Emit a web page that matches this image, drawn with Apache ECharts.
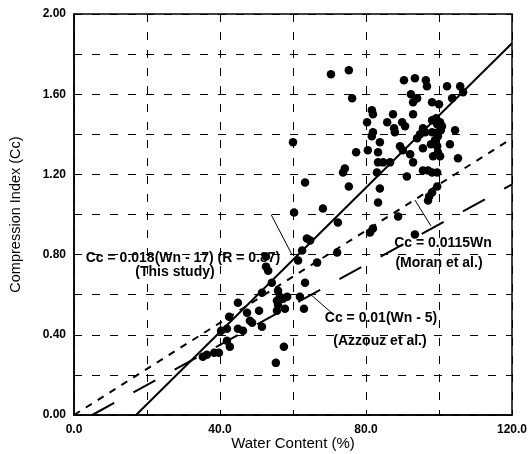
<!DOCTYPE html>
<html>
<head>
<meta charset="utf-8">
<script src="https://cdn.jsdelivr.net/npm/echarts@6/dist/echarts.min.js"></script>
<style>html,body{margin:0;padding:0;background:#fff;}#c{width:531px;height:454px;}</style>
</head>
<body>
<div id="c"></div>
<script>
// Measured points: [Water content (%), Compression index Cc]
var measuredPoints = [
  [35.3,0.29],[36.4,0.30],[38.4,0.31],[39.7,0.31],[40.3,0.42],[41.9,0.43],[41.9,0.37],[42.7,0.34],
  [42.5,0.49],[44.9,0.56],[44.9,0.43],[46.3,0.42],[47.4,0.51],[48.2,0.47],[48.8,0.46],[51.5,0.44],
  [50.7,0.52],[51.5,0.61],[52.6,0.79],[52.6,0.74],[53.2,0.72],[54.2,0.66],[55.9,0.62],[56.4,0.59],
  [57.3,0.58],[55.6,0.57],[58.4,0.59],[55.9,0.55],[55.6,0.52],[57.5,0.34],[55.3,0.26],[61.4,0.77],
  [61.9,0.59],[63.0,0.53],[63.3,0.66],[66.6,0.76],[57.8,0.53],
  [70.4,1.70],[75.3,1.72],[76.2,1.58],[60.0,1.36],[63.3,1.16],[60.3,1.01],[68.2,1.03],[75.3,1.14],
  [72.3,0.96],[63.8,0.88],[64.7,0.87],[62.5,0.82],[72.1,0.81],[74.2,1.23],[73.7,1.21],
  [90.4,1.67],[93.4,1.68],[96.4,1.67],[96.7,1.64],[102.2,1.64],[105.8,1.64],[106.6,1.61],[103.6,1.58],
  [92.3,1.60],[92.9,1.56],[94.0,1.58],[98.1,1.56],[100.0,1.55],[81.6,1.52],[81.9,1.50],[80.3,1.46],
  [81.9,1.41],[81.6,1.39],[83.8,1.36],[77.3,1.31],[80.5,1.32],[83.3,1.31],[83.3,1.26],[83.0,1.21],
  [87.4,1.50],[85.8,1.46],[89.9,1.46],[90.7,1.44],[87.7,1.43],[87.9,1.41],[92.9,1.50],[98.1,1.47],
  [99.5,1.45],[100.8,1.44],[98.1,1.41],[99.7,1.41],[100.3,1.46],[95.6,1.43],[96.2,1.41],[104.4,1.42],
  [94.0,1.38],[94.8,1.40],[89.3,1.34],[90.1,1.32],[103.0,1.35],[98.9,1.37],[99.5,1.34],[99.7,1.39],
  [95.6,1.33],[97.8,1.35],[99.7,1.31],[100.3,1.29],[98.4,1.29],[92.1,1.30],[92.9,1.26],[84.7,1.26],
  [86.6,1.26],[95.6,1.22],[97.0,1.22],[98.1,1.21],[99.5,1.21],[105.2,1.28],[91.2,1.19],[83.8,1.13],
  [99.5,1.14],[98.1,1.11],[97.3,1.09],[97.0,1.07],[83.3,1.06],[88.8,0.99],[81.9,0.93],[81.1,0.91],
  [93.4,0.90],[99.2,1.48],[100.5,1.42]
];
// Regression lines (end points)
var thisStudyLine = [[17,0],[120,1.854]];   // Cc = 0.018(Wn - 17)
var moranLine = [[0,0],[120,1.38]];          // Cc = 0.0115Wn
var azzouzLine = [[5,0],[120,1.15]];         // Cc = 0.01(Wn - 5)
// Leader lines for annotations
var thisStudyPointer = [[54.0,1.00],[59.7,0.80]];
var moranPointer = [[93.4,1.072],[97.8,0.943]];
var azzouzPointer = [[64.9,0.60],[71.2,0.50]];
var xLabels = [0,40,80,120];
var yLabels = [0,0.4,0.8,1.2,1.6,2.0];
var annotations = [
  ['Cc = 0.018(Wn - 17) (R = 0.87)','(This study)'],
  ['Cc = 0.0115Wn','(Moran et al.)'],
  ['Cc = 0.01(Wn - 5)','(Azzouz et al.)']
];

var chart = echarts.init(document.getElementById('c'));
var F = '"Liberation Sans", Arial, sans-serif';
function isLabelX(v){ return xLabels.some(function(t){return Math.abs(t-v)<1e-6;}); }
function isLabelY(v){ return yLabels.some(function(t){return Math.abs(t-v)<1e-6;}); }
var txt = {fontFamily:F, fontWeight:'bold', fontSize:14, fill:'#000', textAlign:'center', textVerticalAlign:'middle'};
chart.setOption({
  animation:false,
  backgroundColor:'#fff',
  grid:{left:74,right:19,top:14,bottom:39,show:true,borderColor:'#000',borderWidth:1.5,
    containLabel:false,outerBoundsMode:'none'},
  xAxis:{type:'value',min:0,max:120,interval:20,
    name:'Water Content (%)',nameLocation:'middle',nameGap:21,nameMoveOverlap:false,
    nameTextStyle:{fontFamily:F,fontSize:15,color:'#000',verticalAlign:'top'},
    axisLine:{show:true,lineStyle:{color:'#000',width:1.5}},
    axisTick:{show:true,inside:true,length:5,lineStyle:{color:'#000'}},
    axisLabel:{fontFamily:F,fontWeight:'bold',fontSize:12,color:'#000',margin:9,
      formatter:function(v){return isLabelX(v)?v.toFixed(1):'';}},
    splitLine:{show:true,lineStyle:{color:'#000',width:1,type:[8,10]}}
  },
  yAxis:{type:'value',min:0,max:2,interval:0.2,
    name:'Compression Index (Cc)',nameLocation:'middle',nameGap:51,nameMoveOverlap:false,
    nameTextStyle:{fontFamily:F,fontSize:14.5,color:'#000'},
    axisLine:{show:true,lineStyle:{color:'#000',width:1.5}},
    axisTick:{show:true,inside:true,length:5,lineStyle:{color:'#000'}},
    axisLabel:{fontFamily:F,fontWeight:'bold',fontSize:12,color:'#000',margin:8,
      formatter:function(v){return isLabelY(v)?v.toFixed(2):'';}},
    splitLine:{show:true,lineStyle:{color:'#000',width:1,type:[8,10]}}
  },
  series:[
    {type:'line',data:thisStudyLine,symbol:'none',lineStyle:{color:'#000',width:2},z:3},
    {type:'line',data:moranLine,symbol:'none',lineStyle:{color:'#000',width:2,type:[7,7]},z:3},
    {type:'line',data:azzouzLine,symbol:'none',lineStyle:{color:'#000',width:2,type:[25,22]},z:3},
    {type:'line',data:thisStudyPointer,symbol:'none',lineStyle:{color:'#000',width:1},z:3},
    {type:'line',data:moranPointer,symbol:'none',lineStyle:{color:'#000',width:1},z:3},
    {type:'line',data:azzouzPointer,symbol:'none',lineStyle:{color:'#000',width:1},z:3},
    {type:'scatter',data:measuredPoints,symbol:'circle',symbolSize:8.5,itemStyle:{color:'#000',opacity:1},z:4}
  ],
  graphic:[
    {type:'text',x:183,y:258,style:Object.assign({text:annotations[0][0]},txt)},
    {type:'text',x:175,y:272,style:Object.assign({text:annotations[0][1]},txt)},
    {type:'text',x:443,y:243,style:Object.assign({text:annotations[1][0]},txt)},
    {type:'text',x:439,y:263,style:Object.assign({text:annotations[1][1]},txt)},
    {type:'text',x:381,y:318,style:Object.assign({text:annotations[2][0]},txt)},
    {type:'text',x:380,y:341,style:Object.assign({text:annotations[2][1]},txt)}
  ]
});
</script>
</body>
</html>
